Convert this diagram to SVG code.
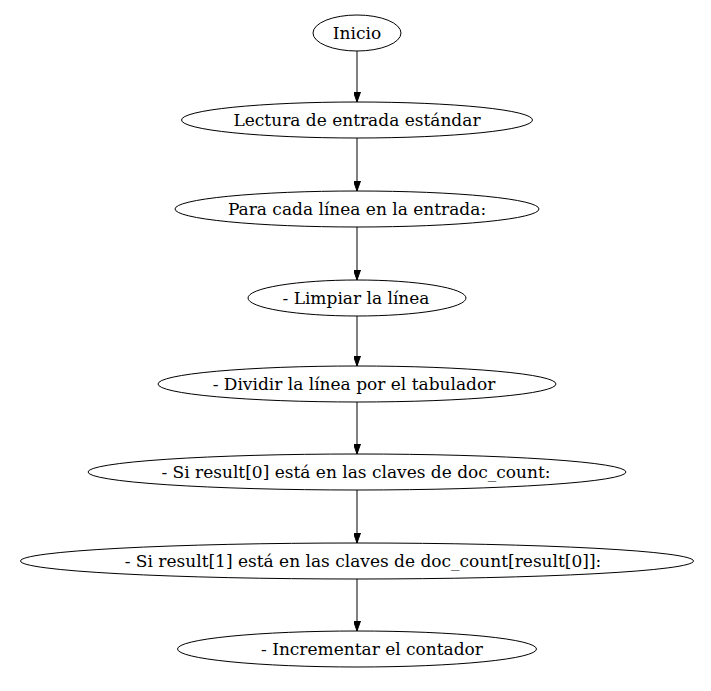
<svg xmlns="http://www.w3.org/2000/svg" width="711" height="691" viewBox="0 0 711 691">
<style>
.n ellipse{fill:none;stroke:#000;stroke-width:1}
.n text{font-family:"DejaVu Serif",serif;font-size:17px;text-anchor:middle;fill:#000}
.e line{stroke:#000;stroke-width:1}
</style>
<defs>
<marker id="ah" markerWidth="10" markerHeight="7" refX="10" refY="3.5" orient="auto" markerUnits="userSpaceOnUse">
<polygon points="0,0 10,3.5 0,7" fill="#000" stroke="#000"/>
</marker>
</defs>
<rect width="711" height="691" fill="#fff"/>
<g id="edges" class="e">
<line x1="357" y1="51" x2="357" y2="102" marker-end="url(#ah)"/>
<line x1="357" y1="138" x2="357" y2="191" marker-end="url(#ah)"/>
<line x1="357" y1="227" x2="357" y2="280" marker-end="url(#ah)"/>
<line x1="357" y1="316" x2="357" y2="366" marker-end="url(#ah)"/>
<line x1="357" y1="402" x2="357" y2="454" marker-end="url(#ah)"/>
<line x1="357" y1="490" x2="357" y2="543" marker-end="url(#ah)"/>
<line x1="357" y1="579" x2="357" y2="631" marker-end="url(#ah)"/>
</g>
<g id="n1" class="n"><ellipse cx="357" cy="33" rx="44" ry="18"/><text x="357" y="39">Inicio</text></g>
<g id="n2" class="n"><ellipse cx="357" cy="120" rx="175.5" ry="18"/><text x="357" y="126">Lectura de entrada estándar</text></g>
<g id="n3" class="n"><ellipse cx="357" cy="209" rx="182" ry="18"/><text x="357" y="215">Para cada línea en la entrada:</text></g>
<g id="n4" class="n"><ellipse cx="357" cy="298" rx="109" ry="18"/><text x="356" y="304">- Limpiar la línea</text></g>
<g id="n5" class="n"><ellipse cx="357" cy="384" rx="199" ry="18"/><text x="354" y="390">- Dividir la línea por el tabulador</text></g>
<g id="n6" class="n"><ellipse cx="357" cy="472" rx="269" ry="18"/><text x="356" y="478">- Si result[0] está en las claves de doc_count:</text></g>
<g id="n7" class="n"><ellipse cx="357" cy="561" rx="336.5" ry="18"/><text x="363" y="567">- Si result[1] está en las claves de doc_count[result[0]]:</text></g>
<g id="n8" class="n"><ellipse cx="357" cy="649" rx="179.5" ry="18"/><text x="372" y="655">- Incrementar el contador</text></g>
</svg>
